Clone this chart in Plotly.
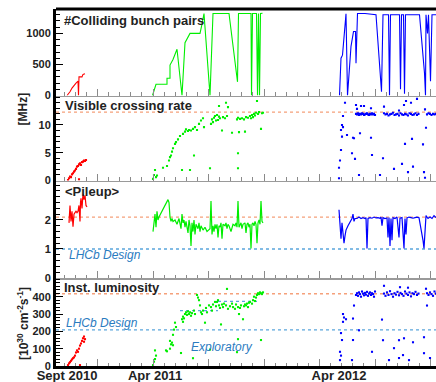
import plotly.graph_objects as go

# ---------------- data (x = days since 1 Apr 2011) ----------------
x_range = [-198, 562]
tick_label_days = [-176, 0, 368]
tick_label_text = ["Sept 2010", "Apr 2011", "Apr 2012"]

# #Colliding bunch pairs
bp_red_days = [-176, -170, -166, -162, -158, -154, -153, -152, -146, -144, -140]
bp_red_vals = [0, 60, 120, 170, 200, 230, 0, 300, 300, 340, 350]
bp_green_days = [-5, 2, 24, 24, 30, 30, 36, 44, 54, 60, 70, 90, 94, 98, 110, 116, 148, 165, 167,
                 192, 193, 195, 203, 205, 207, 209, 211, 215]
bp_green_vals = [0, 180, 180, 277, 277, 490, 580, 745, 0, 850, 1000, 1000, 1150, 1320, 0, 1320, 1320,
                 220, 1320, 1320, 0, 1320, 1320, 0, 1320, 0, 1320, 1325]
bp_blue_days = [369, 372, 375, 379, 382, 385, 392, 397, 401, 402, 405, 420, 442, 453, 456, 467, 469,
                471, 489, 491, 493, 497, 499, 501, 529, 539, 541, 542, 545, 547, 551, 554, 562]
bp_blue_vals = [0, 600, 650, 1030, 1315, 0, 790, 1030, 1030, 520, 1320, 1320, 1300, 60, 1300, 1300, 0,
                1300, 1300, 100, 1300, 1300, 30, 1300, 1300, 360, 0, 1300, 1000, 1300, 230, 1300, 1300]

# Visible crossing rate [MHz]
rate_red_days = [-174, -172, -170, -168, -166, -164, -162, -160, -158, -156, -154, -152, -152, -150,
                 -148, -146, -144, -142, -140, -138]
rate_red_vals = [0.1, 0.4, 0.7, 0.6, 1.1, 1.3, 1.6, 1.8, 2.1, 2.5, 2.6, 0.2, 2.9, 3.1, 2.8, 3.3, 3.4,
                 3.6, 3.5, 3.7]
rate_green_days = [-4, -2, 0, 2, 4, 16, 24, 28, 30, 32, 34, 36, 40, 42, 46, 50, 54, 56, 60, 62, 66, 68,
                   70, 72, 76, 78, 80, 84, 88, 92, 96, 98, 110, 112, 114, 116, 118, 120, 122, 124, 126,
                   128, 128, 130, 134, 136, 140, 142, 144, 146, 154, 164, 166, 166, 166, 168, 170, 174,
                   178, 180, 182, 186, 190, 192, 194, 196, 198, 200, 202, 204, 206, 208, 212, 214, 216]
rate_green_vals = [0.3, 1.0, 1.9, 0.6, 0.9, 2.3, 2.6, 3.6, 4.2, 4.5, 5.2, 5.8, 6.6, 6.9, 7.4, 8.0, 1.9,
                   8.4, 8.8, 9.2, 8.9, 9.1, 1.9, 9.0, 9.3, 4.5, 9.6, 9.1, 10.2, 10.8, 11.2, 9.6, 2.2,
                   10.2, 11.0, 10.5, 11.3, 11.6, 10.8, 11.8, 10.9, 11.5, 13.4, 11.2, 9.0, 11.4, 11.2,
                   14.0, 11.6, 13.2, 8.6, 11.0, 11.3, 4.9, 2.2, 8.7, 11.1, 11.2, 11.0, 8.8, 11.4, 11.3,
                   11.6, 11.2, 11.8, 11.4, 12.0, 11.7, 12.2, 14.3, 12.0, 12.3, 9.3, 12.1, 12.2]
rate_blue_days = [368, 368, 370, 372, 372, 374, 374, 376, 376, 380, 384, 394, 396, 398, 400, 402, 404,
                  408, 410, 412, 418, 432, 434, 432, 450, 456, 458, 478, 488, 494, 498, 500, 502, 506,
                  512, 514, 516, 524, 536, 538, 540, 542, 540]
rate_blue_vals = [0.4, 2.3, 3.6, 5.5, 9.1, 7.9, 10.0, 9.6, 11.6, 14.0, 8.2, 4.9, 7.7, 7.6, 3.9, 13.6,
                  12.9, 1.0, 8.5, 13.4, 13.4, 7.7, 4.6, 13.0, 1.0, 4.0, 13.3, 2.1, 12.6, 3.0, 13.6, 6.6,
                  14.3, 1.5, 14.0, 7.5, 2.5, 14.7, 6.5, 1.5, 12.8, 9.5, 0.5]
blue_plateau_days = [402, 404, 406, 408, 410, 412, 414, 416, 418, 420, 422, 424, 426, 428, 430, 432,
                     434, 436, 438, 440,
                     458, 461, 464, 467, 470, 473, 476, 479, 482, 485, 488, 491, 494, 497, 500, 503,
                     506, 509, 512, 515, 518, 521, 524, 527,
                     544, 547, 550, 553, 556, 559, 562]
rate_blue_plateau = [12.0, 11.9, 12.1, 11.8, 12.0, 11.9, 12.1, 12.0, 11.8, 11.9, 12.0, 12.1, 11.9, 11.8,
                     12.0, 11.9, 12.1, 11.9, 12.0, 11.8,
                     12.1, 11.9, 12.0, 11.7, 11.9, 12.0, 12.2, 11.8, 11.9, 12.0, 11.7, 12.1, 11.9, 11.8,
                     12.0, 11.9, 11.7, 12.1, 12.0, 11.8, 11.9, 12.1, 11.8, 12.0,
                     11.9, 12.1, 12.0, 11.8, 12.0, 11.9, 12.0]
rate_ref = 12.3

# <Pileup>
pu_red_days = [-172, -170, -168, -166, -164, -162, -160, -158, -156, -154, -152, -150, -149, -148,
               -146, -144, -142, -140, -138, -136]
pu_red_vals = [1.9, 2.5, 1.95, 2.3, 1.77, 2.2, 2.25, 2.3, 2.25, 2.3, 2.5, 1.95, 2.6, 2.75, 2.4, 2.9,
               2.7, 2.85, 2.5, 2.45]
pu_green_days = [-4, -2, 0, 2, 4, 6, 8, 26, 28, 30, 32, 34, 36, 40, 44, 48, 52, 54, 56, 58, 60, 62, 66,
                 68, 70, 72, 74, 76, 78, 80, 82, 86, 88, 90, 92, 96, 100, 104, 110, 112, 114, 116, 118,
                 120, 122, 124, 126, 128, 130, 132, 134, 136, 140, 142, 144, 146, 148, 152, 156, 160,
                 162, 164, 166, 168, 170, 172, 174, 176, 180, 182, 184, 186, 188, 190, 192, 194, 196,
                 198, 200, 202, 204, 206, 208, 210, 212, 214, 216]
pu_green_vals = [1.6, 2.0, 2.2, 1.75, 2.3, 2.0, 2.1, 2.7, 2.6, 2.1, 1.95, 2.05, 1.95, 2.0, 1.85, 2.05,
                 1.7, 2.2, 1.9, 2.0, 1.75, 1.95, 1.55, 2.0, 1.8, 1.1, 1.9, 1.6, 2.0, 1.5, 1.85, 1.7, 1.9,
                 1.6, 1.8, 1.65, 1.75, 1.6, 1.7, 2.65, 1.5, 1.8, 1.6, 1.85, 1.7, 1.85, 1.4, 1.8, 1.75,
                 1.9, 1.35, 1.85, 1.8, 1.9, 1.7, 1.85, 1.8, 1.6, 1.85, 1.8, 1.9, 1.75, 2.65, 1.75, 1.85,
                 1.9, 1.7, 1.85, 1.9, 1.55, 1.85, 1.9, 1.75, 1.85, 1.02, 1.85, 1.9, 1.8, 1.95, 1.85,
                 1.2, 1.9, 2.0, 1.85, 2.65, 1.95, 1.9]
pu_blue_days = [368, 370, 372, 374, 376, 378, 380, 382, 386, 390, 394, 396, 398, 400, 404, 408, 412,
                416, 420, 422, 424, 426, 430, 434, 438, 442, 446, 450, 452, 454, 456, 460, 464, 466,
                468, 470, 472, 474, 476, 480, 484, 488, 490, 494, 498, 500, 502, 504, 508, 512, 516,
                520, 524, 528, 530, 532, 536, 538, 540, 542, 546, 550, 554, 558, 562]
pu_blue_vals = [2.35, 1.7, 1.35, 1.9, 1.6, 1.2, 1.45, 1.65, 1.8, 1.95, 2.05, 2.2, 1.95, 2.05, 2.05, 2.1,
                2.05, 2.08, 2.05, 2.08, 1.02, 2.05, 2.08, 2.06, 2.1, 2.07, 2.08, 2.06, 2.1, 1.8, 2.08,
                2.05, 2.07, 1.4, 2.08, 1.1, 2.05, 1.3, 2.08, 2.05, 2.1, 1.4, 2.06, 2.08, 1.02, 2.05,
                1.5, 2.07, 2.1, 2.08, 2.06, 2.08, 2.1, 2.08, 1.9, 1.75, 1.3, 1.02, 1.6, 2.15, 2.05,
                2.1, 2.05, 2.15, 2.08]
pu_ref = 2.1
pu_design = 1.0

# Inst. luminosity [1e30 cm^-2 s^-1]
lumi_red_days = [-174, -172, -170, -168, -166, -164, -162, -160, -158, -156, -154, -152, -150, -150,
                 -148, -146, -144, -142, -142, -140]
lumi_red_vals = [5, 15, 22, 30, 38, 45, 50, 60, 78, 90, 82, 100, 5, 118, 130, 145, 160, 140, 170, 155]
lumi_green_days = [-4, -2, 0, 0, 2, 22, 24, 30, 30, 32, 34, 36, 36, 38, 40, 42, 52, 54, 56, 56, 58, 60,
                   62, 64, 66, 68, 70, 72, 74, 76, 78, 80, 84, 86, 88, 90, 92, 94, 96, 100, 102, 104,
                   108, 110, 112, 114, 116, 120, 122, 124, 126, 128, 130, 132, 134, 136, 138, 142, 144,
                   146, 150, 154, 156, 160, 162, 164, 166, 166, 168, 170, 172, 176, 178, 180, 182, 184,
                   186, 188, 190, 194, 196, 198, 200, 202, 204, 206, 208, 210, 212, 214, 216, 212]
lumi_green_vals = [5, 25, 90, 40, 60, 90, 85, 100, 145, 125, 135, 180, 120, 210, 250, 225, 75, 270, 285,
                   255, 275, 300, 310, 295, 315, 300, 310, 290, 305, 45, 320, 300, 410, 395, 380, 350,
                   310, 300, 320, 250, 335, 310, 350, 95, 340, 320, 355, 370, 345, 370, 380, 350, 335,
                   240, 355, 340, 360, 350, 445, 330, 345, 360, 340, 330, 355, 80, 155, 340, 300, 335,
                   350, 270, 345, 355, 350, 360, 340, 365, 370, 360, 380, 400, 375, 395, 410, 420, 415,
                   425, 420, 415, 425, 150]
lumi_blue_days = [370, 370, 372, 372, 374, 376, 376, 378, 382, 394, 396, 396, 398, 408, 434, 454, 456,
                  458, 468, 478, 488, 488, 490, 496, 498, 506, 508, 516, 538, 538, 542, 544, 550]
lumi_blue_vals = [34, 82, 60, 190, 150, 255, 300, 280, 270, 34, 150, 274, 349, 206, 82, 268, 149, 463,
                  34, 103, 149, 46, 455, 63, 160, 452, 34, 137, 166, 74, 446, 349, 46]
lumi_blue_plateau = [410, 420, 405, 425, 415, 400, 430, 418, 408, 422, 412, 428, 405, 418, 425, 410,
                     420, 415, 400, 430,
                     418, 405, 425, 410, 432, 415, 400, 420, 412, 428, 408, 422, 415, 405, 430, 418,
                     410, 425, 402, 420, 415, 428, 410, 418,
                     420, 410, 425, 415, 405, 430, 418]
lumi_ref = 417
lumi_design = 208
explor_days = [50, 126, None, 126, 206]
explor_vals = [320, 320, None, 373, 373]

# ---------------- styling ----------------
RED, GREEN, BLUE = "#ff0000", "#00ee00", "#0000ff"
ORANGE_DASH = "#f5a07a"
BLUE_DASH = "#5aa5dc"
TEXT_BLUE = "#2a7bbf"
FONT = "Liberation Sans"

fig = go.Figure()


def line(xs, ys, color, ax, width=1.1):
    fig.add_trace(go.Scatter(x=xs, y=ys, mode="lines", line=dict(color=color, width=width),
                             xaxis="x" + ax, yaxis="y" + ax, hoverinfo="skip", showlegend=False))


def dots(xs, ys, color, ax):
    fig.add_trace(go.Scatter(x=xs, y=ys, mode="markers",
                             marker=dict(color=color, size=2.1, symbol="square", line=dict(width=0)),
                             xaxis="x" + ax, yaxis="y" + ax, hoverinfo="skip", showlegend=False))


def ref(level, color, ax):
    line(x_range, [level, level], color, ax, 1.3)
    fig.data[-1].line.dash = "dot"


# panel 1
line(bp_red_days, bp_red_vals, RED, "")
line(bp_green_days, bp_green_vals, GREEN, "")
line(bp_blue_days, bp_blue_vals, BLUE, "")
# panel 2
ref(rate_ref, ORANGE_DASH, "2")
dots(rate_red_days, rate_red_vals, RED, "2")
dots(rate_green_days, rate_green_vals, GREEN, "2")
dots(rate_blue_days, rate_blue_vals, BLUE, "2")
dots(blue_plateau_days, rate_blue_plateau, BLUE, "2")
# panel 3
ref(pu_ref, ORANGE_DASH, "3")
ref(pu_design, BLUE_DASH, "3")
line(pu_red_days, pu_red_vals, RED, "3", 1.2)
line(pu_green_days, pu_green_vals, GREEN, "3", 1.2)
line(pu_blue_days, pu_blue_vals, BLUE, "3", 1.2)
# panel 4
ref(lumi_ref, ORANGE_DASH, "4")
ref(lumi_design, BLUE_DASH, "4")
line(explor_days, explor_vals, BLUE_DASH, "4", 1.3)
fig.data[-1].line.dash = "dot"
dots(lumi_red_days, lumi_red_vals, RED, "4")
dots(lumi_green_days, lumi_green_vals, GREEN, "4")
dots(lumi_blue_days, lumi_blue_vals, BLUE, "4")
dots(blue_plateau_days, lumi_blue_plateau, BLUE, "4")
# carrier for the date labels axis
fig.add_trace(go.Scatter(x=tick_label_days, y=[None] * len(tick_label_days), mode="markers",
                         xaxis="x5", yaxis="y4", hoverinfo="skip", showlegend=False))

# ---------------- axes ----------------
H, W = 382, 436
top_px, bot_px, left_px = 9, 366, 56
ph = bot_px - top_px


def frac(px):
    return (bot_px - px) / ph


bounds = [top_px, 95.5, 180.5, 278, bot_px]
y_ranges = [[0, 1393], [0, 15.3], [0, 3.36], [0, 508]]
y_ticks = [[0, 500, 1000], [0, 5, 10], [0, 1, 2], [0, 100, 200, 300, 400]]
y_minor = [100, 1, 0.2, 20]

xa = dict(range=x_range, showgrid=False, zeroline=False, showticklabels=False, ticks="inside",
          tick0=-4, dtick=111, ticklen=7, tickwidth=1, tickcolor="#8a8a8a", showline=True,
          linecolor="#9a9a9a", linewidth=1.5, fixedrange=True,
          minor=dict(ticks="inside", tick0=-4, dtick=22.2, ticklen=3.5, tickcolor="#8a8a8a",
                     showgrid=False))

layout = dict(width=W, height=H, margin=dict(l=left_px, r=0, t=top_px, b=H - bot_px),
              paper_bgcolor="white", plot_bgcolor="white", hovermode=False, showlegend=False)

for i in range(4):
    sfx = "" if i == 0 else str(i + 1)
    xd = dict(xa, anchor="y" + sfx)
    if i > 0:
        xd["matches"] = "x"
    if i == 3:
        xd["linecolor"] = "black"
        xd["linewidth"] = 3
    layout["xaxis" + sfx] = xd
    layout["yaxis" + sfx] = dict(
        domain=[frac(bounds[i + 1]), frac(bounds[i])], range=y_ranges[i], anchor="x" + sfx,
        tickmode="array", tickvals=y_ticks[i], ticks="inside", ticklen=7, tickwidth=1,
        tickcolor="black", showline=True, linecolor="black", linewidth=3, showgrid=False,
        zeroline=False, fixedrange=True,
        tickfont=dict(family=FONT, size=11, color="#222", weight="bold"),
        minor=dict(ticks="inside", tickmode="linear", tick0=0, dtick=y_minor[i], ticklen=3.5,
                   tickcolor="black", showgrid=False))

layout["xaxis5"] = dict(overlaying="x4", anchor="y4", side="bottom", range=x_range,
                        tickmode="array", tickvals=tick_label_days, ticktext=tick_label_text,
                        ticks="", showline=False, showgrid=False, zeroline=False, fixedrange=True,
                        tickfont=dict(family=FONT, size=13, color="#222", weight="bold"))

fig.update_layout(**layout)

# frame top
fig.add_shape(type="line", xref="paper", yref="paper", x0=0, x1=1, y0=1, y1=1,
              line=dict(color="black", width=3))


def px_x(px):
    return (px - left_px) / (W - left_px)


def note(text, xpx, ypx, size=13, color="#222", bold=True, italic=False, angle=0, anchor="left"):
    fig.add_annotation(text=text, xref="paper", yref="paper", x=px_x(xpx), y=frac(ypx),
                       xanchor=anchor, yanchor="middle", showarrow=False, textangle=angle,
                       font=dict(family=FONT, size=size, color=color,
                                 weight="bold" if bold else "normal",
                                 style="italic" if italic else "normal"))


note("#Colliding bunch pairs", 62, 20)
note("Visible crossing rate", 63, 105.5)
note("&lt;Pileup&gt;", 63, 191.5)
note("Inst. luminosity", 62, 287.5)
note("LHCb Design", 67, 255, size=12, color=TEXT_BLUE, bold=False, italic=True)
note("LHCb Design", 64, 323, size=12, color=TEXT_BLUE, bold=False, italic=True)
note("Exploratory", 189, 347, size=12, color=TEXT_BLUE, bold=False, italic=True)
note("[MHz]", 22.5, 109, size=12, angle=-90, anchor="center")
note("[10<sup>30</sup> cm<sup>-2</sup>s<sup>-1</sup>]", 22.5, 323.5, size=12, angle=-90,
     anchor="center")

fig.write_html("out.html", config={"displayModeBar": False, "staticPlot": True},
               post_script="document.body.style.margin='0px';document.body.style.padding='0px';")
